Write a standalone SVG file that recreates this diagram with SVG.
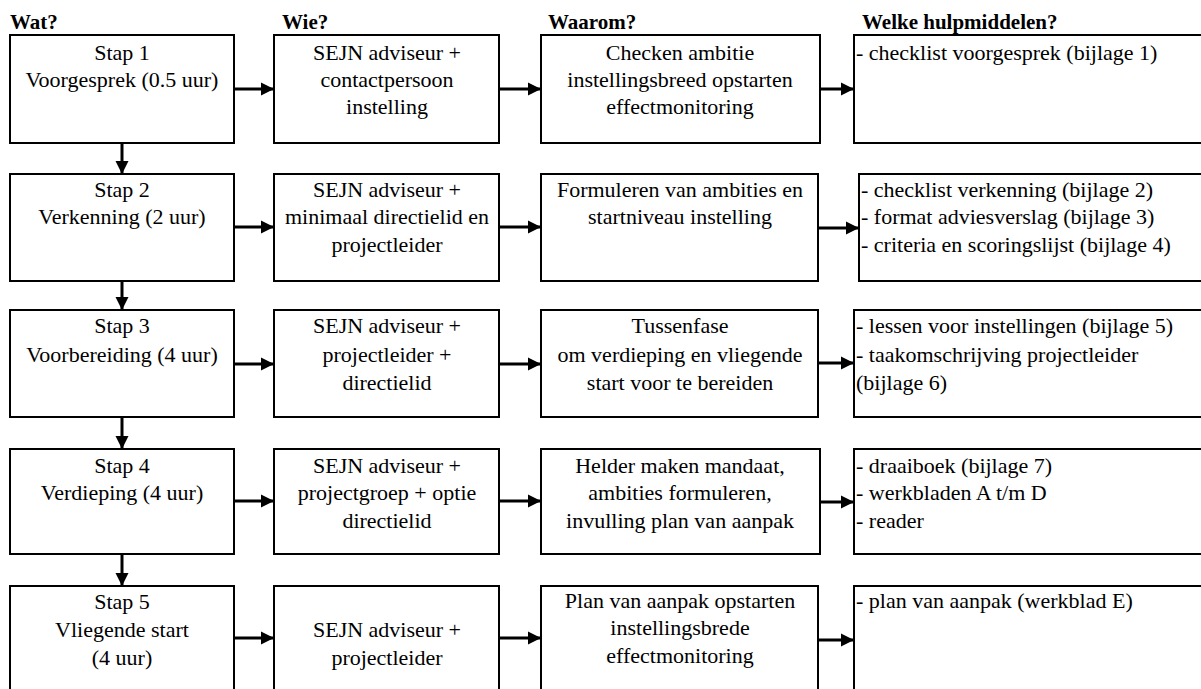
<svg xmlns="http://www.w3.org/2000/svg" width="1201" height="689" viewBox="0 0 1201 689">
<defs>
<style>
.box{fill:#fff;stroke:#000;stroke-width:2}
text{font-family:'Liberation Serif','Times New Roman',serif;font-size:22px;fill:#000}
.c{text-anchor:middle}
.h{font-weight:bold;font-size:21px}
.ar{stroke:#000;stroke-width:3;fill:none;marker-end:url(#ah)}
</style>
<marker id="ah" markerUnits="userSpaceOnUse" markerWidth="14" markerHeight="14" refX="13" refY="7" orient="auto">
<path d="M0,0.5 L13,7 L0,13.5 z" fill="#000"/>
</marker>
</defs>
<rect width="1201" height="689" fill="#fff"/>
<g id="headers">
<text class="h" x="10" y="29">Wat?</text>
<text class="h" x="282" y="29">Wie?</text>
<text class="h" x="548" y="29">Waarom?</text>
<text class="h" x="862" y="29">Welke hulpmiddelen?</text>
</g>
<g id="connectors">
<line class="ar" x1="233" y1="89" x2="274" y2="89"/>
<line class="ar" x1="499" y1="89" x2="541" y2="89"/>
<line class="ar" x1="818" y1="89" x2="854" y2="89"/>
<line class="ar" x1="233" y1="227" x2="274" y2="227"/>
<line class="ar" x1="499" y1="227" x2="541" y2="227"/>
<line class="ar" x1="818" y1="228" x2="859" y2="228"/>
<line class="ar" x1="233" y1="364" x2="274" y2="364"/>
<line class="ar" x1="499" y1="364" x2="541" y2="364"/>
<line class="ar" x1="818" y1="363" x2="854" y2="363"/>
<line class="ar" x1="233" y1="501" x2="274" y2="501"/>
<line class="ar" x1="499" y1="501" x2="541" y2="501"/>
<line class="ar" x1="818" y1="502" x2="854" y2="502"/>
<line class="ar" x1="233" y1="638" x2="274" y2="638"/>
<line class="ar" x1="499" y1="638" x2="541" y2="638"/>
<line class="ar" x1="818" y1="640" x2="854" y2="640"/>
<line class="ar" x1="122" y1="143" x2="122" y2="174"/>
<line class="ar" x1="122" y1="281" x2="122" y2="310"/>
<line class="ar" x1="122" y1="417" x2="122" y2="449"/>
<line class="ar" x1="122" y1="554" x2="122" y2="586"/>
</g>
<g id="stap1">
<rect class="box" x="10" y="35" width="224" height="108"/>
<text class="c" x="122" y="60">Stap 1</text>
<text class="c" x="122" y="87">Voorgesprek (0.5 uur)</text>
</g>
<g id="wie1">
<rect class="box" x="274" y="35" width="225" height="108"/>
<text class="c" x="387" y="60">SEJN adviseur +</text>
<text class="c" x="387" y="87">contactpersoon</text>
<text class="c" x="387" y="114">instelling</text>
</g>
<g id="waarom1">
<rect class="box" x="541" y="35" width="279" height="108"/>
<text class="c" x="680" y="60">Checken ambitie</text>
<text class="c" x="680" y="87">instellingsbreed opstarten</text>
<text class="c" x="680" y="114">effectmonitoring</text>
</g>
<g id="hulp1">
<rect class="box" x="854" y="35" width="400" height="108"/>
<text x="856" y="60">- checklist voorgesprek (bijlage 1)</text>
</g>
<g id="stap2">
<rect class="box" x="10" y="174" width="224" height="107"/>
<text class="c" x="122" y="197">Stap 2</text>
<text class="c" x="122" y="224">Verkenning (2 uur)</text>
</g>
<g id="wie2">
<rect class="box" x="274" y="174" width="225" height="107"/>
<text class="c" x="387" y="197">SEJN adviseur +</text>
<text class="c" x="387" y="224">minimaal directielid en</text>
<text class="c" x="387" y="252">projectleider</text>
</g>
<g id="waarom2">
<rect class="box" x="541" y="174" width="277" height="107"/>
<text class="c" x="680" y="197">Formuleren van ambities en</text>
<text class="c" x="680" y="224">startniveau instelling</text>
</g>
<g id="hulp2">
<rect class="box" x="859" y="174" width="400" height="107"/>
<text x="861" y="197">- checklist verkenning (bijlage 2)</text>
<text x="861" y="224">- format adviesverslag (bijlage 3)</text>
<text x="861" y="252">- criteria en scoringslijst (bijlage 4)</text>
</g>
<g id="stap3">
<rect class="box" x="10" y="310" width="224" height="107"/>
<text class="c" x="122" y="333">Stap 3</text>
<text class="c" x="122" y="362">Voorbereiding (4 uur)</text>
</g>
<g id="wie3">
<rect class="box" x="274" y="310" width="225" height="107"/>
<text class="c" x="387" y="333">SEJN adviseur +</text>
<text class="c" x="387" y="362">projectleider +</text>
<text class="c" x="387" y="390">directielid</text>
</g>
<g id="waarom3">
<rect class="box" x="541" y="310" width="277" height="107"/>
<text class="c" x="680" y="333">Tussenfase</text>
<text class="c" x="680" y="362">om verdieping en vliegende</text>
<text class="c" x="680" y="390">start voor te bereiden</text>
</g>
<g id="hulp3">
<rect class="box" x="854" y="310" width="400" height="107"/>
<text x="856" y="333">- lessen voor instellingen (bijlage 5)</text>
<text x="856" y="362">- taakomschrijving projectleider</text>
<text x="856" y="390">(bijlage 6)</text>
</g>
<g id="stap4">
<rect class="box" x="10" y="449" width="224" height="105"/>
<text class="c" x="122" y="473">Stap 4</text>
<text class="c" x="122" y="500">Verdieping (4 uur)</text>
</g>
<g id="wie4">
<rect class="box" x="274" y="449" width="225" height="105"/>
<text class="c" x="387" y="473">SEJN adviseur +</text>
<text class="c" x="387" y="500">projectgroep + optie</text>
<text class="c" x="387" y="528">directielid</text>
</g>
<g id="waarom4">
<rect class="box" x="541" y="449" width="279" height="105"/>
<text class="c" x="680" y="473">Helder maken mandaat,</text>
<text class="c" x="680" y="500">ambities formuleren,</text>
<text class="c" x="680" y="528">invulling plan van aanpak</text>
</g>
<g id="hulp4">
<rect class="box" x="854" y="449" width="400" height="105"/>
<text x="856" y="473">- draaiboek (bijlage 7)</text>
<text x="856" y="500">- werkbladen A t/m D</text>
<text x="856" y="528">- reader</text>
</g>
<g id="stap5">
<rect class="box" x="10" y="586" width="224" height="120"/>
<text class="c" x="122" y="609">Stap 5</text>
<text class="c" x="122" y="637">Vliegende start</text>
<text class="c" x="122" y="665">(4 uur)</text>
</g>
<g id="wie5">
<rect class="box" x="274" y="586" width="225" height="120"/>
<text class="c" x="387" y="637">SEJN adviseur +</text>
<text class="c" x="387" y="665">projectleider</text>
</g>
<g id="waarom5">
<rect class="box" x="541" y="586" width="277" height="120"/>
<text class="c" x="680" y="608">Plan van aanpak opstarten</text>
<text class="c" x="680" y="635">instellingsbrede</text>
<text class="c" x="680" y="663">effectmonitoring</text>
</g>
<g id="hulp5">
<rect class="box" x="854" y="586" width="400" height="120"/>
<text x="856" y="608">- plan van aanpak (werkblad E)</text>
</g>
</svg>
